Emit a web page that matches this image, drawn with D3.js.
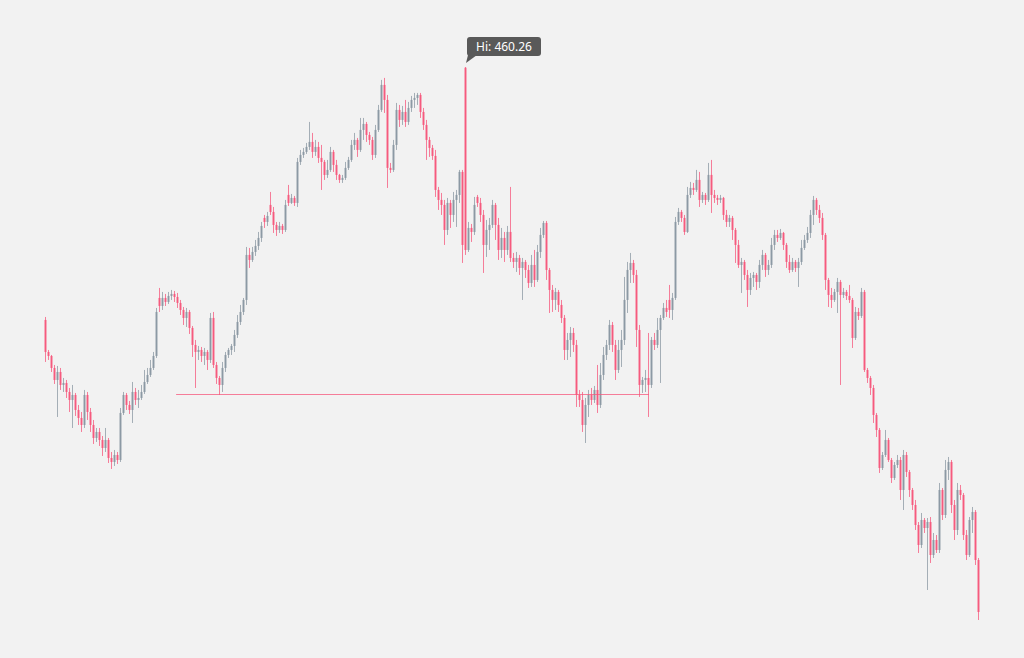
<!doctype html>
<html>
  <head>
    <meta charset="utf-8">
    <script src="https://cdnjs.cloudflare.com/ajax/libs/d3/7.8.5/d3.min.js"></script>
    <style>
      html, body { margin: 0; padding: 0; background: #f2f2f2; }
      svg { display: block; }
      .hi-label { font-family: "Noto Sans", "Open Sans", sans-serif; font-size: 12px; fill: #fff; }
    </style>
  </head>
  <body>
    <svg id="chart" width="1024" height="658"></svg>
    <script>
      // OHLC prices, one entry per candle
      var opens = [333.8,317.8,315.8,309.8,303.8,307.8,301.3,302.3,297.8,293.8,296.3,288.8,284.8,281.3,296.3,287.8,281.3,274.8,277.8,273.8,
        269.8,273.8,264.8,262.8,266.3,263.8,287.3,296.3,291.3,288.8,297.8,293.8,294.8,297.8,302.8,306.3,309.8,315.8,344.8,340.8,
        344.8,342.8,345.8,346.8,345.3,342.3,338.8,334.8,337.8,329.8,321.3,317.8,318.8,315.8,317.8,313.8,334.8,311.3,304.8,301.3,
        309.8,316.3,318.8,320.8,326.3,332.8,337.8,343.8,366.3,363.8,367.8,370.8,374.8,384.8,382.8,391.3,387.8,381.3,378.8,380.8,
        378.8,396.3,392.3,394.8,392.3,412.8,416.3,417.8,420.3,422.8,417.8,420.3,414.8,412.8,406.3,408.8,417.8,411.3,406.3,403.8,
        404.8,409.8,413.8,421.3,423.8,418.8,428.8,431.8,426.3,423.8,416.3,428.8,438.8,451.3,443.8,409.8,408.8,421.3,438.8,433.8,
        437.8,432.8,439.8,443.8,444.8,446.3,437.8,431.3,423.8,419.8,415.8,398.8,393.8,391.3,378.8,392.3,386.3,393.8,396.3,407.8,
        459.9,368.8,379.8,377.8,395.3,392.3,386.3,371.3,378.8,381.3,391.3,381.3,368.8,374.8,368.8,377.8,364.8,362.8,364.8,359.8,
        362.8,358.8,352.3,361.3,353.8,367.8,376.3,382.3,358.8,348.8,343.8,347.8,341.3,334.8,318.8,323.8,327.3,321.3,296.3,293.8,
        281.3,291.3,296.3,293.8,298.8,291.3,306.3,316.3,321.3,331.3,321.3,308.8,318.8,323.8,343.8,358.8,362.3,356.3,328.8,301.3,
        303.8,304.8,301.3,323.8,321.3,328.8,334.8,339.8,343.8,338.8,344.8,382.8,387.8,384.8,377.8,396.3,399.8,398.8,403.8,393.8,
        396.3,393.8,406.3,396.3,394.8,393.8,394.8,386.3,382.8,384.8,378.8,371.3,361.3,362.8,356.3,348.8,354.8,356.3,352.8,361.3,
        366.3,358.8,361.3,371.3,376.3,374.8,377.3,371.3,362.8,358.8,362.8,359.8,362.8,369.8,373.8,377.3,386.3,393.8,388.8,384.8,
        376.3,353.8,346.3,343.8,347.8,352.8,346.3,347.8,345.8,343.8,324.8,337.8,335.8,347.8,308.8,304.8,299.8,286.3,278.8,259.8,
        266.3,273.8,263.8,254.8,261.3,263.8,248.8,266.3,257.8,248.8,241.3,231.3,221.3,233.8,229.8,232.8,216.3,223.8,218.8,248.8,
        236.3,258.8,262.8,241.3,228.8,248.8,246.3,226.3,216.3,233.8,237.8,213.8];
      var highs = [335.3,318.8,316.3,311.3,310.8,309.8,304.8,303.8,299.8,301.3,297.3,291.3,287.8,298.8,297.8,289.8,283.8,279.8,279.8,275.8,
        279.8,274.8,267.8,268.8,267.8,289.8,297.8,297.3,293.3,302.8,299.8,298.8,301.3,308.8,309.8,313.8,317.8,339.8,349.8,347.8,
        346.8,347.8,348.8,348.3,347.3,343.8,340.3,339.8,338.8,330.8,323.8,320.8,320.3,319.8,318.8,337.3,337.8,312.8,305.8,312.8,
        317.8,319.8,321.8,328.8,336.3,341.3,344.8,370.3,369.8,370.3,373.8,377.8,382.8,386.3,387.8,397.8,390.3,382.8,382.8,381.8,
        393.8,401.3,396.8,395.8,414.8,418.8,419.8,422.3,432.8,427.3,423.8,422.8,421.3,413.8,413.8,420.3,418.8,413.8,406.8,406.3,
        412.8,415.3,423.8,427.3,424.8,434.8,434.8,432.8,427.8,425.3,431.3,441.3,453.8,454.8,446.3,412.3,423.8,442.3,441.3,440.8,
        443.8,442.8,445.8,447.3,447.3,447.3,439.8,433.8,425.3,421.3,418.8,400.3,397.3,393.8,394.8,393.8,397.8,398.8,408.8,408.8,
        460.26,382.8,381.8,395.3,396.3,394.8,388.8,383.8,384.8,393.8,392.3,384.8,379.8,377.8,380.8,400.3,367.3,367.8,366.3,364.8,
        363.8,361.3,366.3,368.8,371.3,379.8,383.3,383.3,359.8,351.3,349.8,348.8,343.8,336.3,327.3,330.3,329.8,323.8,298.8,297.8,
        294.8,298.8,299.8,300.8,311.3,312.3,320.3,323.8,333.8,332.8,323.8,323.8,328.8,355.3,362.8,367.3,363.8,358.8,331.3,305.3,
        308.8,327.3,325.3,327.3,334.8,336.3,342.3,343.8,351.3,347.3,385.3,389.8,388.8,386.3,400.3,402.8,402.3,408.8,407.8,397.8,
        397.3,412.3,413.8,398.8,396.3,396.3,395.3,388.8,386.3,385.8,379.8,373.8,364.8,363.8,358.8,357.3,357.8,357.3,363.8,368.8,
        367.3,363.8,374.8,378.8,378.8,379.3,377.8,372.3,366.3,364.8,363.8,364.8,373.8,376.3,380.3,388.8,395.8,394.8,391.3,387.3,
        377.3,354.8,349.8,349.3,354.8,353.8,349.8,348.8,351.3,344.8,340.3,339.8,349.8,348.8,309.8,305.8,301.3,287.3,279.8,267.8,
        278.8,274.8,264.8,262.8,266.3,265.3,268.8,267.8,258.8,249.8,243.8,232.8,237.3,234.8,234.8,235.3,227.3,226.3,252.3,249.8,
        263.8,265.3,263.8,243.8,252.3,251.3,247.3,228.8,235.3,240.3,238.8,214.8];
      var lows = [312.8,313.8,307.8,301.8,285.3,298.8,297.8,294.8,287.8,279.8,285.8,281.3,277.8,279.8,283.8,277.8,271.8,272.8,270.8,265.8,
        267.8,262.3,259.3,260.8,261.8,262.8,286.3,288.8,286.8,282.3,291.3,289.8,293.8,296.8,301.8,305.3,308.8,314.8,337.8,338.8,
        340.8,341.8,343.8,342.8,339.8,336.3,331.3,330.3,326.8,315.3,299.8,313.8,312.8,311.3,308.8,312.3,309.8,301.8,296.3,297.8,
        307.8,314.8,316.3,317.8,324.8,331.3,336.3,341.3,359.8,362.8,365.8,368.8,372.8,379.8,380.8,386.3,377.3,375.8,377.3,376.8,
        377.8,390.8,391.8,390.8,390.3,411.3,414.8,416.8,418.8,414.8,415.8,412.3,398.8,403.8,404.8,407.8,407.8,403.8,402.3,402.3,
        403.8,408.8,412.8,418.8,415.3,417.8,423.8,422.8,421.3,413.8,414.8,427.8,437.8,437.3,399.8,407.3,407.8,418.8,430.3,431.3,
        430.3,431.3,437.8,439.8,441.3,434.8,428.8,413.8,415.3,413.8,395.3,388.8,386.3,371.3,376.3,379.8,382.8,380.3,392.3,362.3,
        366.3,367.8,372.8,376.3,390.3,382.8,357.3,365.3,368.8,379.8,373.8,363.8,364.8,362.8,366.3,362.8,359.8,357.8,356.3,343.8,
        354.8,349.8,350.3,350.3,352.8,364.8,374.8,353.8,337.3,337.8,338.8,337.8,332.3,313.8,313.8,315.3,317.8,290.3,290.3,277.8,
        272.3,285.3,291.3,292.3,287.3,289.8,303.8,313.8,318.8,317.8,303.8,307.3,310.3,321.3,337.3,352.3,352.3,320.3,295.3,297.3,
        297.8,285.3,299.8,318.8,319.8,302.3,333.8,335.3,334.8,333.8,343.8,381.3,382.8,376.3,377.3,394.8,396.3,397.8,390.3,392.3,
        391.3,392.8,387.3,392.3,391.3,392.3,383.8,380.3,380.3,373.8,362.3,359.8,347.3,353.8,340.3,346.3,350.3,348.8,349.8,358.8,
        355.3,356.3,359.8,368.8,372.8,373.8,368.8,359.8,357.3,357.8,357.8,350.3,361.3,368.8,372.3,374.8,381.3,386.3,382.3,373.8,
        348.8,340.3,339.8,342.8,337.3,301.3,344.8,343.8,342.3,319.8,323.8,333.8,334.8,307.8,302.3,296.3,282.3,275.3,257.3,258.8,
        265.3,262.8,252.3,253.8,259.8,243.8,238.8,255.3,245.3,238.8,228.8,217.3,219.8,227.3,198.8,212.3,214.8,217.3,217.3,233.8,
        234.8,253.8,237.3,223.8,226.3,243.8,223.8,213.8,215.3,227.3,211.3,183.8];
      var closes = [317.8,315.8,309.8,303.8,307.8,301.3,302.3,297.8,293.8,296.3,288.8,284.8,281.3,296.3,287.8,281.3,274.8,277.8,273.8,269.8,
        273.8,264.8,262.8,266.3,263.8,287.3,296.3,291.3,288.8,297.8,293.8,294.8,297.8,302.8,306.3,309.8,315.8,337.8,340.8,344.8,
        342.8,345.8,346.8,345.3,342.3,338.8,334.8,337.8,329.8,321.3,317.8,318.8,315.8,317.8,313.8,334.8,311.3,304.8,301.3,309.8,
        316.3,318.8,320.8,326.3,332.8,337.8,343.8,366.3,363.8,367.8,370.8,374.8,380.8,382.8,385.8,387.8,381.3,378.8,380.8,378.8,
        391.3,392.3,394.8,392.3,412.8,416.3,417.8,420.3,422.8,417.8,420.3,414.8,412.8,406.3,408.8,417.8,411.3,406.3,403.8,404.8,
        409.8,413.8,421.3,423.8,418.8,428.8,431.8,426.3,423.8,416.3,428.8,438.8,451.3,443.8,409.8,408.8,421.3,438.8,433.8,437.8,
        432.8,439.8,443.8,444.8,446.3,437.8,431.3,423.8,419.8,415.8,398.8,393.8,391.3,378.8,392.3,386.3,393.8,396.3,407.8,371.3,
        368.8,379.8,377.8,391.3,392.3,386.3,371.3,378.8,381.3,391.3,381.3,368.8,374.8,368.8,377.8,364.8,362.8,364.8,359.8,362.8,
        358.8,352.3,361.3,353.8,367.8,376.3,382.3,358.8,348.8,343.8,347.8,341.3,334.8,318.8,323.8,327.3,321.3,296.3,293.8,281.3,
        291.3,296.3,293.8,298.8,291.3,306.3,316.3,321.3,331.3,321.3,308.8,318.8,323.8,343.8,358.8,362.3,356.3,328.8,301.3,303.8,
        304.8,301.3,323.8,321.3,328.8,334.8,339.8,337.8,338.8,344.8,382.8,387.8,384.8,377.8,396.3,399.8,398.8,403.8,393.8,396.3,
        393.8,406.3,396.3,394.8,393.8,394.8,386.3,382.8,384.8,378.8,371.3,361.3,362.8,356.3,348.8,354.8,356.3,352.8,361.3,366.3,
        358.8,361.3,371.3,376.3,374.8,377.3,371.3,362.8,358.8,362.8,359.8,362.8,369.8,373.8,377.3,386.3,393.8,388.8,384.8,376.3,
        353.8,346.3,343.8,347.8,352.8,346.3,347.8,345.8,343.8,324.8,337.8,335.8,347.8,308.8,304.8,299.8,286.3,278.8,259.8,266.3,
        273.8,263.8,254.8,261.3,263.8,248.8,266.3,257.8,248.8,241.3,231.3,221.3,233.8,229.8,232.8,216.3,223.8,218.8,248.8,236.3,
        258.8,262.8,241.3,228.8,248.8,246.3,226.3,216.3,233.8,237.8,213.8,187.8];

      // level line, candle index range and price
      var levelPrice = 296.76;
      var levelFrom = 43.7;
      var levelTo = 201.3;

      var upColor = "#8a97a2";
      var downColor = "#f6567b";

      var svg = d3.select("#chart");
      var n = closes.length;

      var x = d3.scaleLinear().domain([0, n - 1]).range([45, 978]);
      var y = d3.scaleLinear()
        .domain([d3.min(lows), d3.max(highs)])
        .range([620, 67]);

      var candles = d3.range(n).map(function (i) {
        return { i: i, o: opens[i], h: highs[i], l: lows[i], c: closes[i] };
      });

      var g = svg.append("g");

      // wicks
      g.selectAll("line.wick").data(candles).enter()
        .append("line")
        .attr("class", "wick")
        .attr("x1", d => Math.round(x(d.i)) + 0.5)
        .attr("x2", d => Math.round(x(d.i)) + 0.5)
        .attr("y1", d => y(d.h))
        .attr("y2", d => y(d.l))
        .attr("stroke", d => d.c >= d.o ? upColor : downColor)
        .attr("stroke-opacity", 0.75)
        .attr("stroke-width", 1);

      // bodies
      g.selectAll("rect.body").data(candles).enter()
        .append("rect")
        .attr("class", "body")
        .attr("x", d => Math.round(x(d.i)) - 0.5)
        .attr("width", 2)
        .attr("y", d => y(Math.max(d.o, d.c)))
        .attr("height", d => Math.max(1, Math.abs(y(d.o) - y(d.c))))
        .attr("fill", d => d.c >= d.o ? upColor : downColor)
        .attr("fill-opacity", 0.9);

      // horizontal level
      svg.append("line")
        .attr("x1", x(levelFrom)).attr("x2", x(levelTo))
        .attr("y1", Math.round(y(levelPrice)) + 0.5)
        .attr("y2", Math.round(y(levelPrice)) + 0.5)
        .attr("stroke", downColor)
        .attr("stroke-opacity", 0.75)
        .attr("stroke-width", 1.2);

      // high marker label
      var hiVal = d3.max(highs);
      var hiIdx = highs.indexOf(hiVal);
      var hx = x(hiIdx), hy = y(hiVal);
      var lab = svg.append("g").attr("transform", "translate(" + (hx + 2) + "," + (hy - 30) + ")");
      lab.append("path")
        .attr("d", "M1,18 L10,18 L-1,26 Z")
        .attr("fill", "#595959");
      lab.append("rect")
        .attr("width", 74).attr("height", 19).attr("rx", 3)
        .attr("fill", "#595959");
      lab.append("text")
        .attr("class", "hi-label")
        .attr("x", 37).attr("y", 14)
        .attr("text-anchor", "middle")
        .text("Hi: " + d3.format(".2f")(hiVal));
    </script>
  </body>
</html>
